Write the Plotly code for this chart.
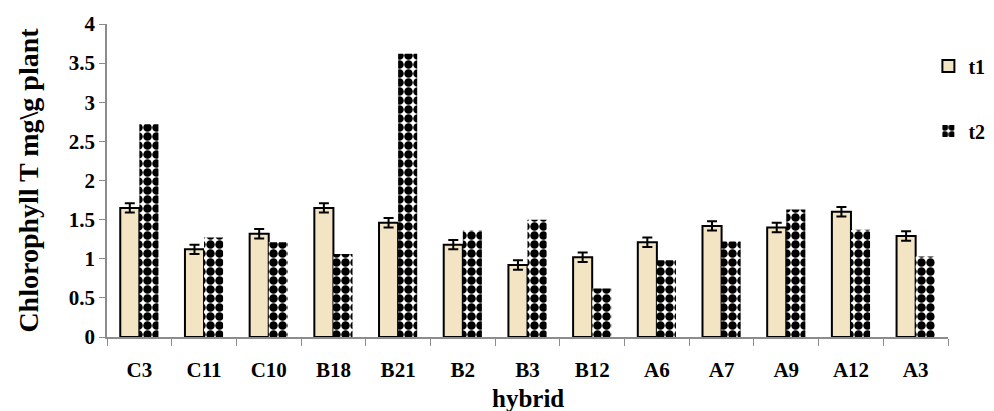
import plotly.graph_objects as go

hybrids = ["C3", "C11", "C10", "B18", "B21", "B2", "B3", "B12",
           "A6", "A7", "A9", "A12", "A3"]
t1 = [1.65, 1.12, 1.32, 1.65, 1.46, 1.18, 0.92, 1.02, 1.21, 1.42, 1.40, 1.60, 1.29]
t1_err = [0.06, 0.06, 0.06, 0.06, 0.06, 0.06, 0.06, 0.06, 0.06, 0.06, 0.06, 0.06, 0.06]
t2 = [2.72, 1.27, 1.21, 1.06, 3.62, 1.36, 1.50, 0.62, 0.98, 1.22, 1.63, 1.37, 1.03]

font_family = "Liberation Serif, Times New Roman, serif"

fig = go.Figure()
fig.add_trace(go.Bar(
    name="t1", x=hybrids, y=t1, legendgroup="t1",
    marker=dict(color="#F3E5C4", line=dict(color="black", width=2)),
    error_y=dict(type="data", array=t1_err, color="black", thickness=2, width=5),
))
fig.add_trace(go.Bar(
    name="t2", x=hybrids, y=t2, legendgroup="t2",
    marker=dict(
        color="white",
        line=dict(width=0),
        pattern=dict(shape=".", fgcolor="black", bgcolor="white", fgopacity=1,
                     size=9, solidity=0.7, fillmode="overlay"),
    ),
))

fig.update_layout(
    width=994, height=411,
    margin=dict(l=107, r=46, t=24, b=74, autoexpand=False),
    paper_bgcolor="white", plot_bgcolor="white",
    barmode="group", bargap=0.41, bargroupgap=0,
    font=dict(family=font_family, color="black", size=21),
    legend=dict(
        xref="container", yref="container",
        x=0.934, y=0.887, xanchor="left", yanchor="top",
        font=dict(family=font_family, size=20, color="black", weight="bold"),
        traceorder="grouped", tracegroupgap=36,
        itemwidth=30, bgcolor="rgba(0,0,0,0)",
    ),
    xaxis=dict(
        tickfont=dict(size=21, weight="bold"),
        showline=True, linecolor="#8c8c8c", linewidth=1.5,
        ticks="outside", tickson="boundaries", ticklen=7,
        tickcolor="#8c8c8c", showgrid=False, ticklabelstandoff=13,
    ),
    yaxis=dict(
        title=dict(text="<b>Chlorophyll T mg\\g plant</b>", font=dict(size=28), standoff=22),
        range=[0, 4], dtick=0.5,
        tickfont=dict(size=21, weight="bold"),
        showline=True, linecolor="#8c8c8c", linewidth=1.5,
        ticks="outside", ticklen=6, tickcolor="#8c8c8c",
        showgrid=False, zeroline=False,
    ),
    annotations=[dict(
        text="<b>hybrid</b>", xref="paper", yref="paper",
        x=0.5, y=-0.195, xanchor="center", yanchor="middle",
        showarrow=False, font=dict(size=25, family=font_family, color="black"),
    )],
)

fig.write_html("out.html")
